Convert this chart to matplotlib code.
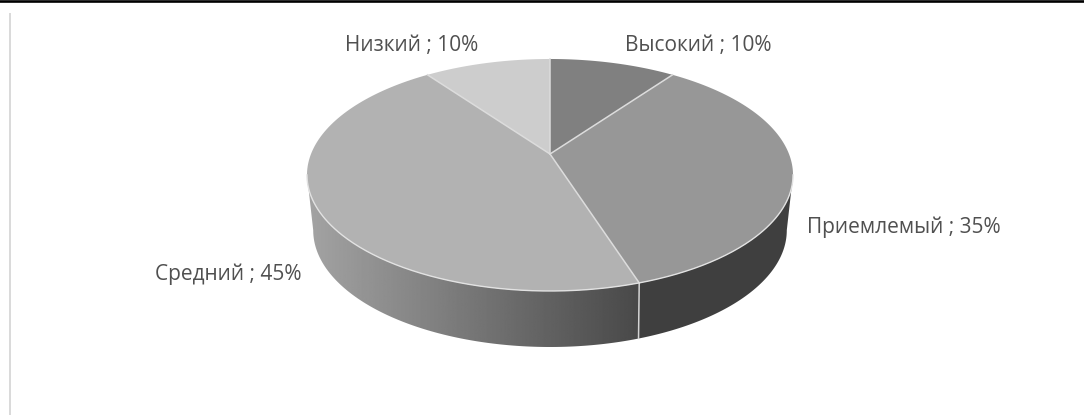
import numpy as np
import matplotlib
matplotlib.use("Agg")
import matplotlib.pyplot as plt
from matplotlib.patches import Polygon

categories = ["Высокий", "Приемлемый", "Средний", "Низкий"]
values = [10, 35, 45, 10]
top_colors = ["#808080", "#979797", "#b2b2b2", "#cdcdcd"]
label_pos = [(625, 51), (807, 233), (155, 280), (345, 51)]

plt.rcParams['font.family'] = ['Open Sans', 'DejaVu Sans']

fig = plt.figure(figsize=(10.84, 4.15), dpi=100, facecolor='white')
ax = fig.add_axes([0, 0, 1, 1])


# perspective view of a disc, angles clockwise from 12 o'clock
def rim(theta, y0, R, a, k):
    t = np.radians(theta)
    c = np.sin(t)
    s = -np.cos(t)
    d = 1 + k * s
    return 550 + R * c / d, y0 + a * s / d


def top(theta):
    return rim(theta, 154, 239, 112.2, -0.181)


def low(theta):
    return rim(theta, 207, 232, 112, -0.2)


def side(th1, th2, lo1, lo2):
    x1, y1 = top(np.linspace(th1, th2, 150))
    x2, y2 = low(np.linspace(lo2, lo1, 150))
    return np.column_stack([np.r_[x1, x2], np.r_[y1, y2]])


edges = np.cumsum([0] + values) * 3.6
split = edges[2]  # border between Приемлемый and Средний on the front

# dark side
ax.add_patch(Polygon(side(100.4, split, 101.5, split), closed=True, fc="#3f3f3f", ec="none"))

# side of Средний has a gradient
grad = np.linspace(0.64, 0.285, 256).reshape(1, -1)
poly = Polygon(side(split, 259.6, split, 258.5), closed=True, fc="none", ec="none")
ax.add_patch(poly)
im = ax.imshow(grad, cmap="gray", vmin=0, vmax=1, aspect="auto",
               extent=[307, 640, 360, 170], zorder=1)
im.set_clip_path(poly)

# light border between the sides
xa, ya = top(split)
xb, yb = low(split)
ax.plot([xa, xb], [ya, yb], color="#d4d4d4", lw=1.1, zorder=2)

# top slices
for i in range(len(values)):
    th = np.linspace(edges[i], edges[i + 1], 120)
    x, y = top(th)
    ax.fill(np.r_[550, x], np.r_[154, y], color=top_colors[i], lw=0, zorder=3)
    ax.plot([550, x[0]], [154, y[0]], color="#dcdcdc", lw=1.1, zorder=4)

x, y = top(np.linspace(100.4, 259.6, 300))
ax.plot(x, y, color="#e2e2e2", lw=1.0, zorder=4)

for i in range(len(categories)):
    ax.text(label_pos[i][0], label_pos[i][1], categories[i] + " ; " + str(values[i]) + "%",
            fontsize=15, color="#505050", ha="left", va="baseline", zorder=5)

# frame lines of the screenshot
ax.plot([0, 1084], [1.2, 1.2], color="black", lw=1.9)
ax.plot([10, 10], [14, 415], color="#d9d9d9", lw=1.4)

ax.set_xlim(0, 1084)
ax.set_ylim(415, 0)
ax.axis("off")
plt.savefig("out.png", dpi=100)
